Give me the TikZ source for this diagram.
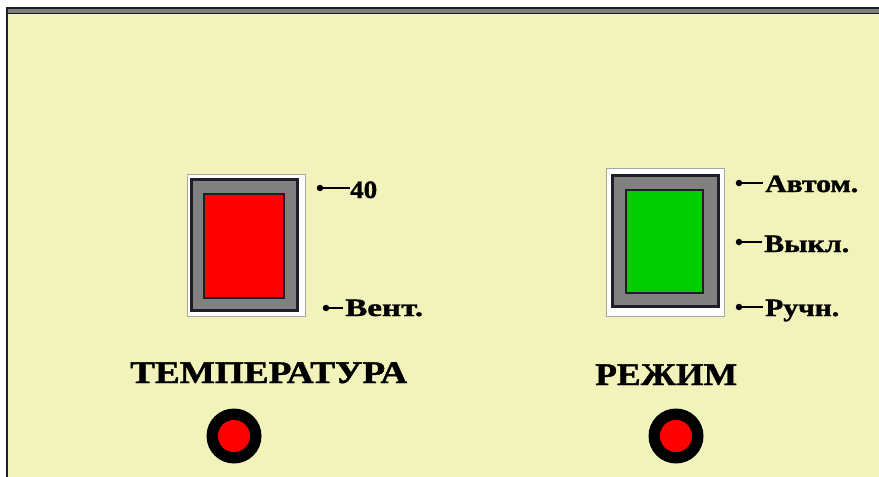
\documentclass[tikz,border=0pt]{standalone}
\usepackage{fontspec}
\usepackage{graphicx}
\setmainfont{Liberation Serif}[BoldFeatures={FakeBold=1.2}]
\definecolor{panel}{RGB}{242,243,186}
\definecolor{frameline}{RGB}{30,30,40}
\definecolor{framegray}{RGB}{128,128,128}
\definecolor{swgreen}{RGB}{0,204,0}
\newcommand{\widen}[2]{\resizebox{#1}{\height}{#2}}
\tikzset{
  titletext/.style={inner sep=0pt, anchor=base west, font=\bfseries\fontsize{31.5}{31.5}\selectfont},
  labeltext/.style={inner sep=0pt, anchor=base west, font=\bfseries\fontsize{25}{25}\selectfont},
  pin dot/.style={circle, fill=black, inner sep=0pt, minimum size=6.5pt},
  leader/.style={black, line width=1.4pt},
  outerbox/.style={draw=gray!70, fill=white, line width=0.6pt},
  framebox/.style={draw=frameline, fill=framegray, line width=3.5pt},
  lamp ring/.style={circle, fill=black, inner sep=0pt, minimum size=55pt},
  lamp core/.style={circle, fill=red, inner sep=0pt, minimum size=32pt}
}
\begin{document}
\begin{tikzpicture}[x=1pt,y=-1pt]
\useasboundingbox (0,0) rectangle (879,477);
\fill[white] (0,0) rectangle (879,477);
\fill[panel] (7,14) rectangle (879,477);
\fill[frameline] (6,7) rectangle (879,8.5);
\fill[framegray] (6,8.5) rectangle (879,12.5);
\fill[frameline] (6,12.5) rectangle (879,14);
\fill[frameline] (6,7) rectangle (7.5,477);

% temperature switch
\draw[outerbox] (187,174) rectangle (305,316);
\draw[framebox] (191.5,179.5) rectangle (297.5,310.5);
\draw[fill=red, draw=frameline, line width=1.2pt] (204,194) rectangle (284,298);

% regime switch
\draw[outerbox] (606,168) rectangle (724,316);
\draw[framebox] (612.5,175.5) rectangle (718.5,306.5);
\draw[fill=swgreen, draw=frameline, line width=1.2pt] (626,190) rectangle (703,293);

% labels temperature
\node[pin dot] (d40) at (320,188) {};
\node[labeltext] (t40) at (350,198) {\widen{27pt}{40}};
\draw[leader] (d40.center) -- (t40.west |- d40.center);
\node[pin dot] (dvent) at (326,308) {};
\node[labeltext] (tvent) at (345,316) {\widen{78pt}{Вент.}};
\draw[leader] (dvent.center) -- ([xshift=-2pt]tvent.west |- dvent.center);

% labels regime
\node[pin dot] (dauto) at (739,183) {};
\node[labeltext] (tauto) at (765,192) {\widen{93pt}{Автом.}};
\draw[leader] (dauto.center) -- ([xshift=-2pt]tauto.west |- dauto.center);
\node[pin dot] (doff) at (739,242) {};
\node[labeltext] (toff) at (764,252) {\widen{85pt}{Выкл.}};
\draw[leader] (doff.center) -- ([xshift=-2pt]toff.west |- doff.center);
\node[pin dot] (dman) at (739,307) {};
\node[labeltext] (tman) at (765,316) {\widen{74pt}{Ручн.}};
\draw[leader] (dman.center) -- ([xshift=-2pt]tman.west |- dman.center);

% titles
\node[titletext] (ttemp) at (130,383) {\widen{277pt}{ТЕМПЕРАТУРА}};
\node[titletext] (tmode) at (595,385) {\widen{142pt}{РЕЖИМ}};

% lamps
\node[lamp ring] (lamp1) at (234,436) {};
\node[lamp core] at (lamp1.center) {};
\node[lamp ring] (lamp2) at (676,436) {};
\node[lamp core] at (lamp2.center) {};
\end{tikzpicture}
\end{document}
